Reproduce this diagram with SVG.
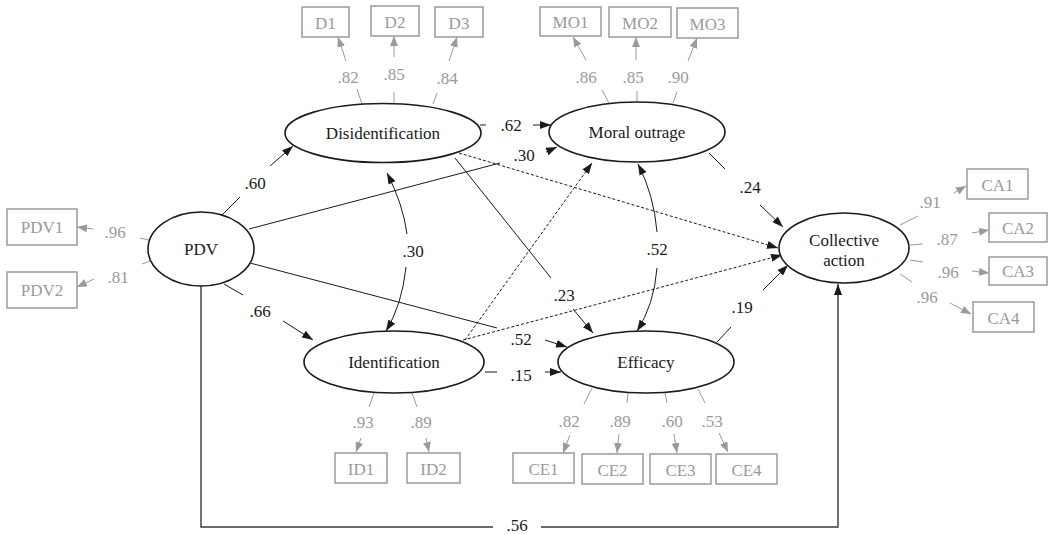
<svg xmlns="http://www.w3.org/2000/svg" width="1049" height="535" viewBox="0 0 1049 535" font-family="'Liberation Serif', 'DejaVu Serif', serif" font-size="17">
<defs>
<marker id="ab" markerUnits="userSpaceOnUse" markerWidth="11" markerHeight="8" refX="11" refY="4" orient="auto-start-reverse"><path d="M0,0 L11,4 L0,8 z" fill="#1a1a1a"/></marker>
<marker id="ag" markerUnits="userSpaceOnUse" markerWidth="10" markerHeight="8" refX="10" refY="4" orient="auto"><path d="M0,0 L10,4 L0,8 z" fill="#9a9a9a"/></marker>
</defs>
<style>
text{font-family:'Liberation Serif','DejaVu Serif',serif;font-size:17px;text-anchor:middle}
.lat{fill:#fff;stroke:#1a1a1a;stroke-width:1.6}
.nm{fill:#1a1a1a}
.box{fill:#fff;stroke:#9a9a9a;stroke-width:1.5}
.gt{fill:#9a9a9a}
.bt{fill:#1a1a1a}
.c{fill:none;stroke:#1a1a1a;stroke-width:1}
.ca{fill:none;stroke:#1a1a1a;stroke-width:1;marker-end:url(#ab)}
.d{fill:none;stroke:#1a1a1a;stroke-width:1;stroke-dasharray:3,2;marker-end:url(#ab)}
.g{fill:none;stroke:#9a9a9a;stroke-width:1}
.ga{fill:none;stroke:#9a9a9a;stroke-width:1;marker-end:url(#ag)}
.r{fill:none;stroke:#3a3a3a;stroke-width:1.4}
</style>
<rect width="1049" height="535" fill="#fff"/>

<g id="connectors">
<line class="c" x1="222" y1="215" x2="240" y2="197"/>
<line class="ca" x1="270" y1="166" x2="293" y2="146"/>
<line class="c" x1="480" y1="125" x2="486" y2="125"/>
<line class="ca" x1="533" y1="125" x2="551" y2="125"/>
<line class="c" x1="249" y1="229" x2="500" y2="163"/>
<line class="ca" x1="546" y1="152" x2="557" y2="147"/>
<line class="d" x1="459" y1="153" x2="778" y2="248"/>
<line class="c" x1="455" y1="158" x2="551" y2="278"/>
<line class="ca" x1="573" y1="309" x2="593" y2="333"/>
<line class="d" x1="465" y1="340" x2="592" y2="163"/>
<line class="d" x1="463" y1="340" x2="782" y2="255"/>
<line class="c" x1="250" y1="263" x2="497" y2="328"/>
<line class="ca" x1="545" y1="340" x2="567" y2="347"/>
<line class="c" x1="224" y1="284" x2="243" y2="295"/>
<line class="ca" x1="283" y1="321" x2="313" y2="340"/>
<line class="c" x1="485" y1="372" x2="497" y2="372"/>
<line class="ca" x1="545" y1="372" x2="561" y2="372"/>
<line class="c" x1="709" y1="153" x2="725" y2="169"/>
<line class="ca" x1="760" y1="205" x2="783" y2="227"/>
<line class="c" x1="717" y1="342" x2="731" y2="327"/>
<line class="ca" x1="763" y1="290" x2="788" y2="265"/>
<polyline class="r" points="201,286 201,527 493,527"/>
<polyline class="r" points="541,527 838,527 838,284" marker-end="url(#ab)"/>
<path class="c" d="M387,173 Q403,204 407,234" marker-start="url(#ab)"/>
<path class="c" d="M406,267 Q402,305 386,331" marker-end="url(#ab)"/>
<path class="c" d="M638,164 Q654,195 657,232" marker-start="url(#ab)"/>
<path class="c" d="M657,268 Q654,305 637,331" marker-end="url(#ab)"/>

<line class="g" x1="362" y1="104" x2="357" y2="89"/><line class="ga" x1="346" y1="61" x2="338" y2="37"/>
<line class="g" x1="394" y1="103" x2="394" y2="92"/><line class="ga" x1="394" y1="57" x2="394" y2="36"/>
<line class="g" x1="433" y1="104" x2="437" y2="93"/><line class="ga" x1="449" y1="61" x2="457" y2="37"/>
<line class="g" x1="609" y1="103" x2="602" y2="90"/><line class="ga" x1="586" y1="60" x2="573" y2="37"/>
<line class="g" x1="637" y1="102" x2="637" y2="91"/><line class="ga" x1="636" y1="60" x2="636" y2="37"/>
<line class="g" x1="673" y1="103" x2="677" y2="92"/><line class="ga" x1="688" y1="61" x2="697" y2="38"/>
<line class="g" x1="149" y1="240" x2="140" y2="238"/><line class="ga" x1="93" y1="229" x2="77" y2="227"/>
<line class="g" x1="150" y1="261" x2="142" y2="264"/><line class="ga" x1="94" y1="279" x2="77" y2="287"/>
<line class="g" x1="900" y1="225" x2="918" y2="216"/><line class="ga" x1="954" y1="193" x2="966" y2="186"/>
<line class="g" x1="910" y1="245" x2="923" y2="244"/><line class="ga" x1="972" y1="233" x2="989" y2="230"/>
<line class="g" x1="910" y1="260" x2="923" y2="262"/><line class="ga" x1="972" y1="271" x2="989" y2="273"/>
<line class="g" x1="900" y1="274" x2="912" y2="282"/><line class="ga" x1="950" y1="303" x2="971" y2="314"/>
<line class="g" x1="374" y1="393" x2="369" y2="407"/><line class="ga" x1="361" y1="438" x2="356" y2="452"/>
<line class="g" x1="412" y1="393" x2="417" y2="407"/><line class="ga" x1="426" y1="438" x2="429" y2="452"/>
<line class="g" x1="592" y1="388" x2="584" y2="404"/><line class="ga" x1="570" y1="435" x2="563" y2="453"/>
<line class="g" x1="628" y1="393" x2="627" y2="403"/><line class="ga" x1="619" y1="434" x2="617" y2="453"/>
<line class="g" x1="665" y1="393" x2="667" y2="403"/><line class="ga" x1="674" y1="434" x2="677" y2="453"/>
<line class="g" x1="698" y1="389" x2="705" y2="403"/><line class="ga" x1="719" y1="433" x2="728" y2="452"/>

<text class="bt" x="255" y="189">.60</text>
<text class="bt" x="511" y="131">.62</text>
<text class="bt" x="524" y="161">.30</text>
<text class="bt" x="413" y="257">.30</text>
<text class="bt" x="564" y="301">.23</text>
<text class="bt" x="521" y="345">.52</text>
<text class="bt" x="521" y="381">.15</text>
<text class="bt" x="260" y="317">.66</text>
<text class="bt" x="750" y="193">.24</text>
<text class="bt" x="657" y="255">.52</text>
<text class="bt" x="742" y="313">.19</text>
<text class="bt" x="517" y="531">.56</text>
<text class="gt" x="348" y="83">.82</text>
<text class="gt" x="394" y="80">.85</text>
<text class="gt" x="447" y="84">.84</text>
<text class="gt" x="586" y="83">.86</text>
<text class="gt" x="633" y="83">.85</text>
<text class="gt" x="678" y="83">.90</text>
<text class="gt" x="115" y="238">.96</text>
<text class="gt" x="118" y="283">.81</text>
<text class="gt" x="930" y="208">.91</text>
<text class="gt" x="947" y="245">.87</text>
<text class="gt" x="948" y="278">.96</text>
<text class="gt" x="927" y="303">.96</text>
<text class="gt" x="363" y="428">.93</text>
<text class="gt" x="421" y="428">.89</text>
<text class="gt" x="569" y="427">.82</text>
<text class="gt" x="620" y="427">.89</text>
<text class="gt" x="672" y="427">.60</text>
<text class="gt" x="712" y="427">.53</text>
</g>

<g id="PDV"><ellipse class="lat" cx="201" cy="249" rx="53" ry="37"/><text class="nm" x="201" y="255">PDV</text></g>
<g id="Disidentification"><ellipse class="lat" cx="383" cy="133" rx="98" ry="29.5"/><text class="nm" x="383" y="139">Disidentification</text></g>
<g id="MoralOutrage"><ellipse class="lat" cx="637" cy="132" rx="88" ry="30"/><text class="nm" x="637" y="138">Moral outrage</text></g>
<g id="CollectiveAction"><ellipse class="lat" cx="844" cy="248" rx="65" ry="35"/><text class="nm" x="844" y="246">Collective</text><text class="nm" x="844" y="266">action</text></g>
<g id="Identification"><ellipse class="lat" cx="394" cy="362" rx="90" ry="31"/><text class="nm" x="394" y="368">Identification</text></g>
<g id="Efficacy"><ellipse class="lat" cx="646" cy="362" rx="88" ry="31"/><text class="nm" x="646" y="368">Efficacy</text></g>

<g id="D1"><rect class="box" x="302" y="7" width="47" height="30"/><text class="gt" x="325.5" y="29">D1</text></g>
<g id="D2"><rect class="box" x="371" y="6" width="48" height="30"/><text class="gt" x="395" y="28">D2</text></g>
<g id="D3"><rect class="box" x="435" y="7" width="48" height="30"/><text class="gt" x="459" y="29">D3</text></g>
<g id="MO1"><rect class="box" x="540" y="7" width="61" height="29"/><text class="gt" x="570.5" y="28">MO1</text></g>
<g id="MO2"><rect class="box" x="609" y="7" width="62" height="30"/><text class="gt" x="640" y="29">MO2</text></g>
<g id="MO3"><rect class="box" x="677" y="8" width="61" height="30"/><text class="gt" x="707.5" y="30">MO3</text></g>
<g id="PDV1"><rect class="box" x="7" y="209" width="70" height="36"/><text class="gt" x="42" y="233">PDV1</text></g>
<g id="PDV2"><rect class="box" x="7" y="272" width="70" height="36"/><text class="gt" x="42" y="296">PDV2</text></g>
<g id="CA1"><rect class="box" x="967" y="169" width="61" height="30"/><text class="gt" x="997.5" y="191">CA1</text></g>
<g id="CA2"><rect class="box" x="989" y="213" width="58" height="29"/><text class="gt" x="1018" y="234">CA2</text></g>
<g id="CA3"><rect class="box" x="989" y="257" width="58" height="28"/><text class="gt" x="1018" y="277">CA3</text></g>
<g id="CA4"><rect class="box" x="973" y="302" width="61" height="30"/><text class="gt" x="1003.5" y="324">CA4</text></g>
<g id="ID1"><rect class="box" x="335" y="453" width="52" height="30"/><text class="gt" x="361" y="475">ID1</text></g>
<g id="ID2"><rect class="box" x="407" y="453" width="53" height="30"/><text class="gt" x="433.5" y="475">ID2</text></g>
<g id="CE1"><rect class="box" x="513" y="453" width="61" height="30"/><text class="gt" x="543.5" y="475">CE1</text></g>
<g id="CE2"><rect class="box" x="582" y="454" width="61" height="30"/><text class="gt" x="612.5" y="476">CE2</text></g>
<g id="CE3"><rect class="box" x="650" y="454" width="61" height="30"/><text class="gt" x="680.5" y="476">CE3</text></g>
<g id="CE4"><rect class="box" x="716" y="454" width="61" height="30"/><text class="gt" x="746.5" y="476">CE4</text></g>
</svg>
